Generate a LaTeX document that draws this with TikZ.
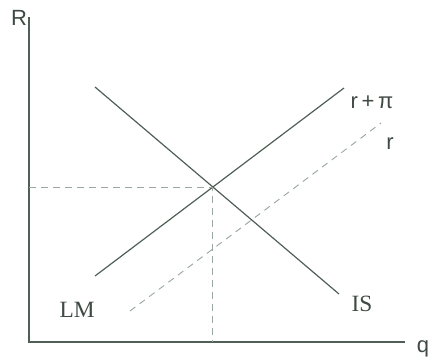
\documentclass[tikz,border=0pt]{standalone}
\usepackage{fontspec}
\setmainfont{Liberation Serif}
\newfontfamily\arialf{Liberation Sans}
\begin{document}
\begin{tikzpicture}[x=0.75pt,y=-0.75pt,
  solidln/.style={draw=lineclr,line width=0.9pt},
  dashln/.style={draw=dashclr,line width=0.7pt,dash pattern=on 5pt off 4pt},
  sanslbl/.style={font=\arialf\fontsize{16.5}{16.5}\selectfont,text=txtclr,inner sep=0pt},
  seriflbl/.style={font=\fontsize{17.5}{17.5}\selectfont,text=txtclr,inner sep=0pt}]
\definecolor{lineclr}{HTML}{4F5F55}
\definecolor{dashclr}{HTML}{9AA8A0}
\definecolor{txtclr}{HTML}{3F4A44}
\useasboundingbox (0,0) rectangle (429,362);
% axes
\coordinate (top) at (29,17);
\coordinate (origin) at (29,342);
\coordinate (right) at (405,342);
\draw[solidln] (top) -- (origin) -- (right);
\node[sanslbl] (R) at (19,18) {R};
\node[sanslbl] (q) at (423,349) {q};
% curves
\coordinate (is1) at (95,87);
\coordinate (is2) at (339,294);
\coordinate (lm1) at (95,276);
\coordinate (lm2) at (344,88);
\coordinate (r1) at (130,311);
\coordinate (r2) at (381,123);
\draw[solidln] (is1) -- (is2);
\draw[solidln] (lm1) -- (lm2);
\draw[dashln] (r1) -- (r2);
% intersection guides
\coordinate (E) at (212,187);
\coordinate (Ey) at (29,187);
\coordinate (Ex) at (212,342);
\draw[dashln] (Ey) -- (E) -- (Ex);
% labels
\node[seriflbl] (IS) at (362,304) {IS};
\node[seriflbl] (LM) at (77,310) {LM};
\node[sanslbl] (rpi) at (372,102) {r\,+\,π};
\node[sanslbl] (r) at (390,144) {r};
\end{tikzpicture}
\end{document}
